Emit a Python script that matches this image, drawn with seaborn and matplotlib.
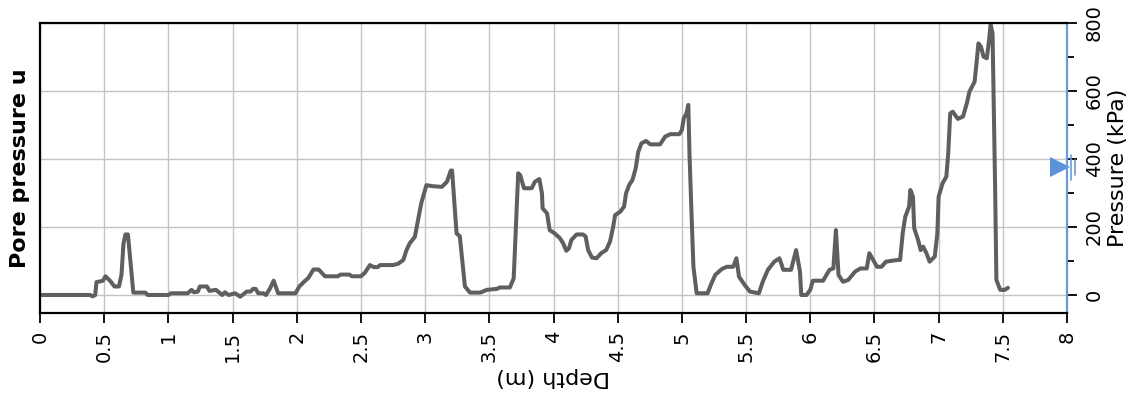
import matplotlib
matplotlib.use("Agg")
import matplotlib.pyplot as plt
import seaborn as sns
import pandas as pd
from matplotlib.ticker import MultipleLocator

depth_m = [0, 0.39, 0.41, 0.43, 0.44, 0.47, 0.49, 0.51, 0.55, 0.58, 0.615, 0.635, 0.65, 0.665, 0.685,
           0.727, 0.82, 0.84, 1.0, 1.02, 1.15, 1.18, 1.2, 1.23, 1.245, 1.3, 1.32, 1.37, 1.42, 1.44,
           1.47, 1.52, 1.56, 1.61, 1.64, 1.66, 1.68, 1.7, 1.74, 1.76, 1.79, 1.82, 1.855, 1.99, 2.02,
           2.06, 2.09, 2.13, 2.17, 2.22, 2.32, 2.34, 2.41, 2.43, 2.5, 2.53, 2.57, 2.6, 2.63, 2.65,
           2.75, 2.79, 2.83, 2.855, 2.88, 2.92, 2.95, 2.97, 3.01, 3.06, 3.13, 3.17, 3.2, 3.21, 3.245,
           3.27, 3.31, 3.35, 3.43, 3.48, 3.56, 3.58, 3.66, 3.69, 3.725, 3.74, 3.77, 3.83, 3.855, 3.89,
           3.91, 3.915, 3.95, 3.97, 4.01, 4.05, 4.075, 4.1, 4.12, 4.14, 4.18, 4.23, 4.25, 4.27, 4.3,
           4.335, 4.375, 4.41, 4.44, 4.465, 4.48, 4.52, 4.55, 4.565, 4.59, 4.615, 4.64, 4.66, 4.685,
           4.72, 4.755, 4.83, 4.87, 4.91, 4.98, 5.0, 5.015, 5.036, 5.05, 5.06, 5.075, 5.09, 5.115,
           5.2, 5.23, 5.26, 5.31, 5.35, 5.4, 5.425, 5.445, 5.49, 5.53, 5.6, 5.63, 5.67, 5.72, 5.76,
           5.79, 5.85, 5.89, 5.92, 5.93, 5.97, 6.0, 6.02, 6.1, 6.15, 6.18, 6.2, 6.22, 6.255, 6.295,
           6.35, 6.39, 6.44, 6.46, 6.52, 6.555, 6.59, 6.68, 6.7, 6.72, 6.74, 6.77, 6.78, 6.8, 6.81,
           6.84, 6.86, 6.88, 6.905, 6.93, 6.97, 6.99, 7.0, 7.03, 7.06, 7.075, 7.09, 7.11, 7.15, 7.19,
           7.22, 7.24, 7.28, 7.295, 7.31, 7.33, 7.35, 7.375, 7.39, 7.405, 7.42, 7.44, 7.45, 7.48,
           7.515, 7.54]
pore_pressure_kpa = [0, 0, -4, 0, 38, 40, 42, 55, 40, 25, 25, 60, 150, 178, 178,
                     7, 7, 0, 0, 5, 5, 15, 8, 10, 25, 25, 12, 15, 0, 8,
                     0, 5, -5, 10, 10, 18, 18, 5, 5, 0, 18, 42, 5, 5, 25,
                     40, 50, 75, 75, 55, 55, 60, 60, 55, 55, 65, 88, 82, 82, 88,
                     88, 92, 103, 132, 152, 171, 230, 270, 323, 320, 318, 333, 366, 366, 181,
                     173, 25, 7, 7, 15, 18, 22, 22, 49, 358, 353, 314, 314, 333, 341,
                     299, 255, 240, 191, 181, 167, 152, 130, 137, 162, 178, 178, 172, 132, 110,
                     108, 124, 132, 157, 201, 235, 245, 260, 299, 324, 338, 372, 421, 446,
                     453, 443, 443, 466, 473, 473, 485, 520, 534, 559, 407, 240, 83, 5,
                     5, 34, 59, 76, 83, 83, 108, 54, 29, 10, 5, 39, 74, 98, 108,
                     74, 74, 132, 69, 0, 0, 15, 42, 42, 74, 78, 191, 59, 39, 44,
                     69, 78, 78, 123, 83, 83, 98, 103, 103, 181, 230, 260, 309, 289, 196,
                     162, 132, 142, 123, 98, 113, 181, 289, 328, 348, 417, 534, 539, 518, 525,
                     564, 598, 627, 681, 740, 730, 701, 696, 740, 795, 770, 318, 44, 15,
                     15, 21]
x_ticks = [0, 0.5, 1, 1.5, 2, 2.5, 3, 3.5, 4, 4.5, 5, 5.5, 6, 6.5, 7, 7.5, 8]
x_tick_labels = ["0", "0.5", "1", "1.5", "2", "2.5", "3", "3.5", "4", "4.5", "5", "5.5",
                 "6", "6.5", "7", "7.5", "8"]
y_ticks = [0, 200, 400, 600, 800]
water_level_kpa = 375

df = pd.DataFrame({"Depth": depth_m, "u": pore_pressure_kpa})

sns.set_style("white")
plt.rcParams["font.family"] = ["DejaVu Sans"]
plt.rcParams["text.color"] = "black"
plt.rcParams["xtick.color"] = "black"
plt.rcParams["ytick.color"] = "black"
plt.rcParams["axes.labelcolor"] = "black"

fig = plt.figure(figsize=(11.3, 3.98), dpi=100)
ax = fig.add_axes([40 / 1130, 1 - 313 / 398, 1027 / 1130, 290 / 398])

sns.lineplot(data=df, x="Depth", y="u", ax=ax, color="#5f5f5f", linewidth=2.9,
             estimator=None, sort=False)

ax.set_xlim(0, 8)
ax.set_ylim(-53, 800)
ax.set_xticks(x_ticks)
ax.set_xticklabels(x_tick_labels, rotation=90, fontsize=14)
ax.set_yticks(y_ticks)
ax.yaxis.set_minor_locator(MultipleLocator(100))
ax.grid(True, which="major", color="#c4c4c4", linewidth=1)
ax.set_axisbelow(True)

ax.yaxis.tick_right()
ax.yaxis.set_label_position("right")
for lab in ax.get_yticklabels():
    lab.set_rotation(90)
    lab.set_va("center")
    lab.set_fontsize(14)
ax.tick_params(axis="x", direction="out", length=7, width=1.3, color="black", pad=6, bottom=True)
ax.tick_params(axis="y", which="major", direction="out", length=7, width=1.3, color="black",
               pad=6, right=True, left=False)
ax.tick_params(axis="y", which="minor", direction="out", length=5, width=1.3, color="black",
               right=True, left=False)

for side in ["left", "top", "bottom"]:
    ax.spines[side].set_color("black")
    ax.spines[side].set_linewidth(1.6)
ax.spines["right"].set_color("#6a9bd8")
ax.spines["right"].set_linewidth(1.6)

ax.set_xlabel("Depth (m)", fontsize=16, rotation=180, va="center")
ax.xaxis.set_label_coords(0.5, -0.221)
ax.set_ylabel("Pressure (kPa)", fontsize=16, va="center")
ax.yaxis.set_label_coords(1.0497, 0.5)
ax.text(-0.0195, 0.5, "Pore pressure u", transform=ax.transAxes, rotation=90,
        ha="center", va="center", fontsize=16, fontweight="bold")

# water level marker on the right spine
ax.plot([7.945], [water_level_kpa], marker=">", markersize=15, color="#5b93d6",
        clip_on=False, markeredgewidth=0)
ax.plot([8.03, 8.03], [water_level_kpa - 38, water_level_kpa + 38], color="#6a9bd8",
        linewidth=1.2, clip_on=False)
ax.plot([8.065, 8.065], [water_level_kpa - 22, water_level_kpa + 22], color="#6a9bd8",
        linewidth=1.2, clip_on=False)

fig.savefig("out.png", dpi=100)
